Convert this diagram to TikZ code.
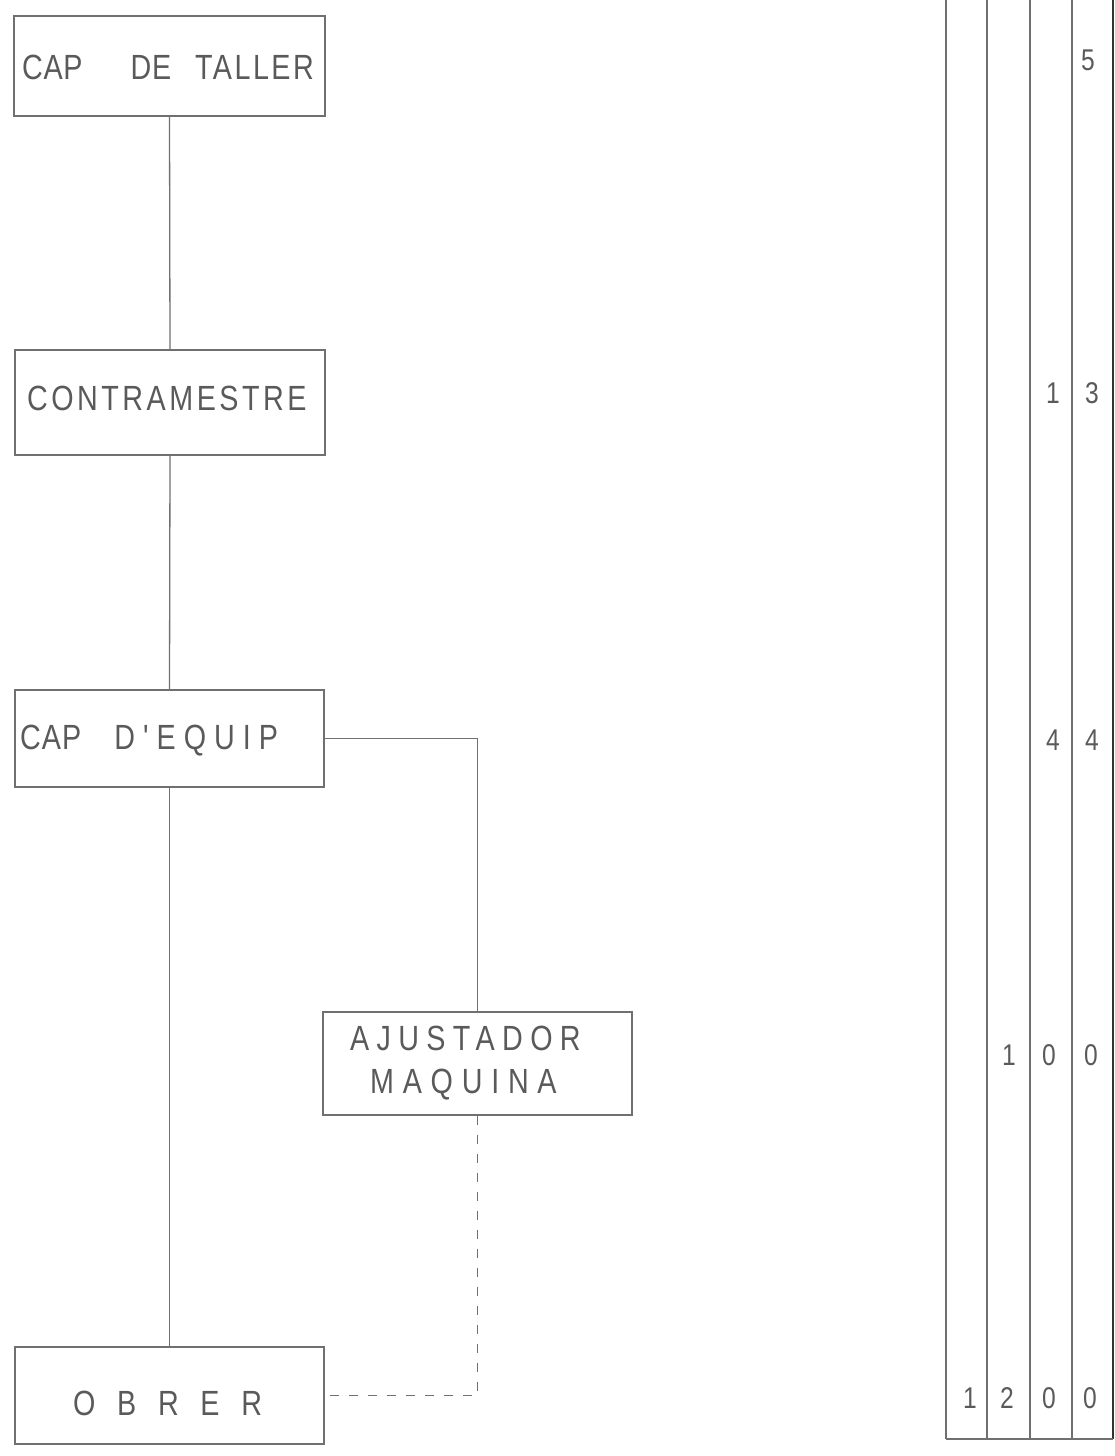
\documentclass[tikz,border=0pt]{standalone}
\usepackage{fontspec}
\newfontfamily\tech[FakeStretch=0.82]{Liberation Sans}
\definecolor{ink}{HTML}{5A5A5A}
\definecolor{rule}{HTML}{707070}
\begin{document}
\begin{tikzpicture}[x=1pt,y=-1pt,
  box/.style={draw=rule,line width=1.4pt,minimum width=#1,inner sep=0pt},
  lbl/.style={anchor=west,inner sep=0pt,text=ink,font=\tech\fontsize{35}{37}\selectfont},
  num/.style={inner sep=0pt,text=ink,font=\tech\fontsize{30}{32}\selectfont},
  link/.style={draw=rule,line width=1.3pt},
  dlink/.style={draw=rule,line width=1.3pt,dash pattern=on 9pt off 10pt},
  grid/.style={draw=rule,line width=1.3pt}]
\useasboundingbox (0,0) rectangle (1114,1456);

% boxes
\node[box=311pt,minimum height=100pt] (taller) at (169.5,66) {};
\node[box=310pt,minimum height=105pt] (contra) at (170,402.5) {};
\node[box=309pt,minimum height=97pt] (equip) at (169.5,738.5) {};
\node[box=309pt,minimum height=103pt] (ajust) at (477.5,1063.5) {};
\node[box=309pt,minimum height=97pt] (obrer) at (169.5,1395.5) {};

% labels
\node[lbl] (ltaller) at (22,67) {{\addfontfeature{LetterSpace=2}CAP}\hspace{48pt}{\addfontfeature{LetterSpace=2}DE}\hspace{24pt}{\addfontfeature{LetterSpace=7}TALLER}};
\node[lbl] (lcontra) at (27,398) {\addfontfeature{LetterSpace=10}CONTRAMESTRE};
\node[lbl] (lequip) at (20,741) {{\addfontfeature{LetterSpace=3}CAP}\hspace{33pt}{\addfontfeature{LetterSpace=23}D'EQUIP}};
\node[lbl] (lajust1) at (350,1038) {\addfontfeature{LetterSpace=21}AJUSTADOR};
\node[lbl] (lajust2) at (370,1085) {\addfontfeature{LetterSpace=25}MAQUINA};
\node[lbl] (lobrer) at (73,1403) {\addfontfeature{LetterSpace=62}OBRER};

% connectors
\draw[link] (taller.south) -- (contra.north);
\draw[link] (contra.south) -- (equip.north);
\draw[link] (equip.south) -- (obrer.north);
\draw[link] (equip.east) -| (ajust.north);
\draw[dlink] (ajust.south) |- (obrer.east);

% table at right
\foreach \xx in {946,987,1030,1072} \draw[grid] (\xx,0) -- (\xx,1439);
\draw[draw=black!80,line width=2pt] (1113,0) -- (1113,1439);
\draw[grid] (946,1439) -- (1113,1439);

\node[num] (a5) at (1088,60) {5};
\node[num] (b1) at (1053,393) {1};
\node[num] (b3) at (1092,393) {3};
\node[num] (c4) at (1053,740) {4};
\node[num] (c4b) at (1092,740) {4};
\node[num] (d1) at (1009,1055) {1};
\node[num] (d0) at (1049,1055) {0};
\node[num] (d0b) at (1091,1055) {0};
\node[num] (e1) at (970,1398) {1};
\node[num] (e2) at (1007,1398) {2};
\node[num] (e0) at (1049,1398) {0};
\node[num] (e0b) at (1090,1398) {0};
\end{tikzpicture}
\end{document}
